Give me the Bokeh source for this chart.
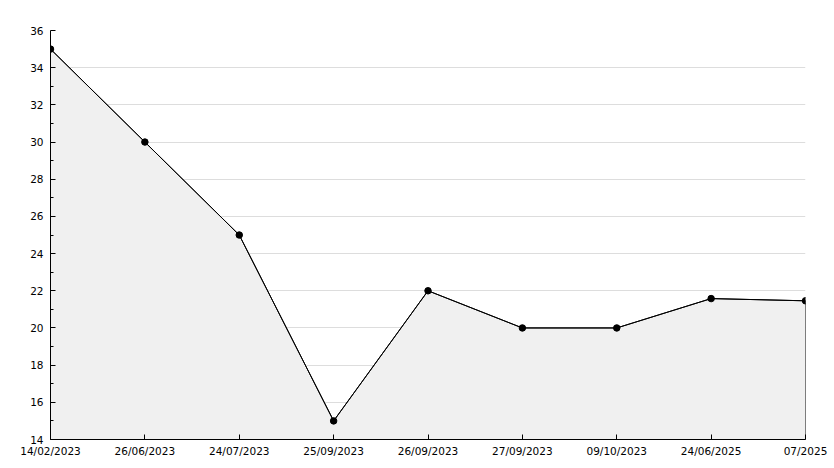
from bokeh.plotting import figure
from bokeh.models import FixedTicker, Range1d
from bokeh.embed import file_html
from bokeh.resources import INLINE

dates = ["14/02/2023", "26/06/2023", "24/07/2023", "25/09/2023", "26/09/2023",
         "27/09/2023", "09/10/2023", "24/06/2025", "07/2025"]
values = [35, 30, 25, 15, 22, 20, 20, 21.58, 21.46]
y_ticks = [14, 16, 18, 20, 22, 24, 26, 28, 30, 32, 34, 36]
y_min, y_max = 14, 36

xs = list(range(len(dates)))

p = figure(width=834, height=468, output_backend="svg", toolbar_location=None,
           x_range=Range1d(0, len(dates) - 1), y_range=Range1d(y_min, y_max),
           min_border_left=50, min_border_right=29, min_border_top=30, min_border_bottom=29)
p.outline_line_color = None
p.background_fill_color = "white"
p.border_fill_color = "white"

# area fill
px = xs + [xs[-1], xs[0]]
py = values + [y_min, y_min]
p.patch(px, py, fill_color="#f0f0f0", line_color="black", line_width=1)
p.line(xs, values, line_color="black", line_width=1)
p.scatter(xs, values, size=6.5, marker="circle", fill_color="black", line_color="black")

# axes
font = "DejaVu Sans"
p.xaxis.ticker = FixedTicker(ticks=xs)
p.xaxis.major_label_overrides = {i: d for i, d in enumerate(dates)}
p.yaxis.ticker = FixedTicker(ticks=y_ticks, minor_ticks=[v + 1 for v in y_ticks[:-1]])
for ax in (p.xaxis[0], p.yaxis[0]):
    ax.axis_line_color = "black"
    ax.axis_line_width = 1
    ax.major_tick_in = 5
    ax.major_tick_out = 0
    ax.major_tick_line_color = "black"
    ax.major_label_text_font = font
    ax.major_label_text_font_size = "10.5px"
    ax.major_label_text_color = "black"
p.xaxis.minor_tick_line_color = None
p.yaxis.minor_tick_in = 3
p.yaxis.minor_tick_out = 0
p.yaxis.minor_tick_line_color = "black"
p.yaxis.major_label_standoff = 7
p.xaxis.major_label_standoff = 5

p.xgrid.grid_line_color = None
p.ygrid.ticker = FixedTicker(ticks=y_ticks)
p.ygrid.grid_line_color = "#dddddd"
p.ygrid.grid_line_width = 1

open("out.html", "w").write(file_html(p, INLINE))
